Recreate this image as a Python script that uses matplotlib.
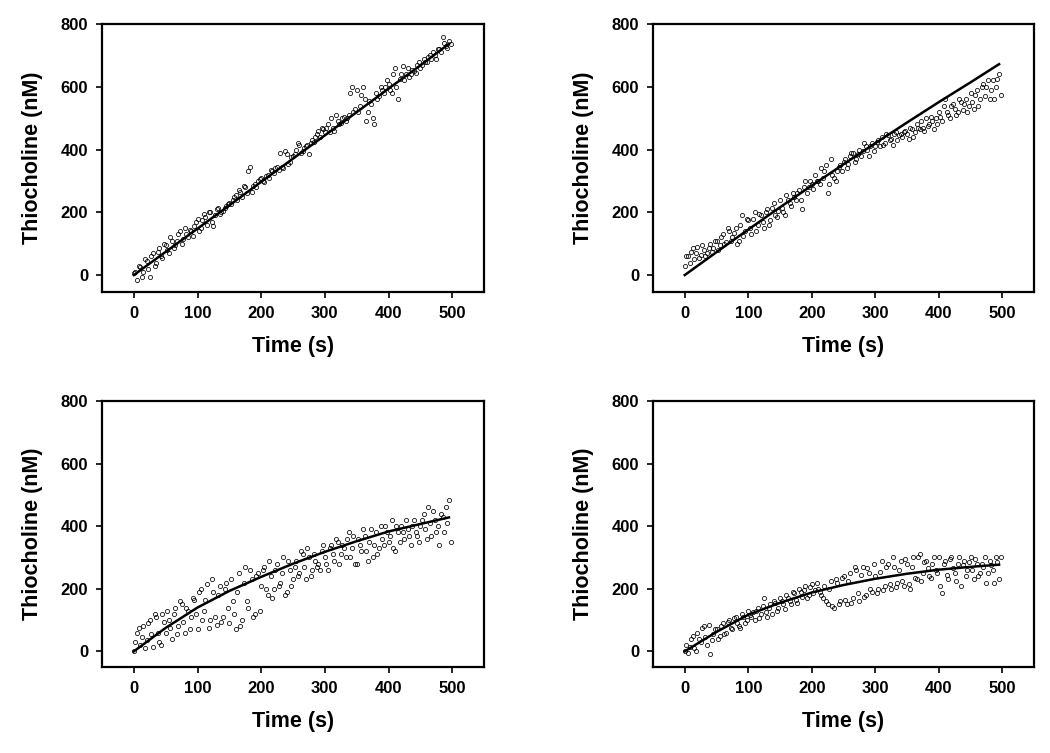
import matplotlib
matplotlib.use("Agg")
import matplotlib.pyplot as plt

# ---- data ----
t_scatter_a = [i * 5.0 for i in range(100)]        # 0, 5, ..., 495
t_scatter_b = [i * 5.0 + 2.5 for i in range(100)]  # 2.5, 7.5, ..., 497.5

tl_values_a = [5, -15, 25, 10, 45, -5, 70, 40, 85, 55, 95, 70, 110, 95, 130, 100, 150, 120, 140, 155,
               180, 150, 195, 160, 200, 155, 210, 195, 205, 220, 230, 240, 255, 270, 250, 280, 330, 265, 290, 300,
               310, 295, 320, 335, 325, 345, 390, 340, 385, 360, 380, 400, 415, 395, 410, 385, 430, 440, 460, 470,
               455, 480, 500, 460, 490, 485, 505, 500, 580, 520, 590, 540, 600, 490, 555, 500, 580, 570, 590, 600,
               610, 580, 660, 560, 640, 620, 660, 640, 650, 670, 660, 690, 680, 700, 710, 690, 720, 760, 730, 745]
tl_values_b = [10, 30, -5, 50, 20, 60, 30, 75, 60, 100, 80, 120, 85, 110, 140, 115, 130, 145, 125, 170,
               140, 175, 185, 200, 170, 190, 215, 200, 215, 225, 225, 250, 240, 265, 285, 260, 345, 285, 280, 305,
               300, 315, 310, 330, 340, 335, 345, 395, 355, 375, 385, 420, 390, 405, 415, 420, 425, 450, 440, 465,
               470, 455, 470, 510, 480, 500, 490, 510, 600, 530, 520, 575, 560, 520, 545, 480, 560, 600, 580, 620,
               590, 640, 600, 625, 665, 640, 630, 655, 645, 680, 670, 680, 695, 690, 700, 720, 710, 740, 725, 735]

tr_values_a = [30, 60, 75, 50, 90, 65, 80, 70, 100, 85, 110, 95, 130, 105, 140, 120, 150, 110, 190, 140,
               175, 130, 200, 160, 190, 150, 210, 175, 230, 185, 240, 200, 255, 230, 260, 240, 270, 210, 300, 280,
               290, 320, 300, 340, 330, 260, 370, 310, 330, 350, 360, 340, 380, 390, 370, 400, 395, 410, 380, 420,
               410, 430, 440, 420, 445, 435, 450, 430, 450, 455, 450, 470, 440, 480, 465, 470, 500, 480, 490, 500,
               520, 490, 560, 510, 540, 530, 520, 550, 545, 520, 580, 530, 590, 560, 610, 600, 560, 620, 600, 640]
tr_values_b = [60, 40, 85, 70, 55, 95, 60, 85, 75, 110, 80, 120, 100, 150, 110, 135, 100, 160, 125, 180,
               150, 180, 140, 195, 170, 200, 160, 215, 190, 205, 215, 190, 240, 220, 250, 260, 240, 280, 260, 300,
               275, 300, 290, 310, 350, 290, 320, 300, 345, 330, 370, 355, 390, 360, 385, 380, 420, 400, 410, 395,
               425, 410, 415, 450, 430, 415, 455, 445, 440, 460, 435, 465, 455, 470, 490, 460, 475, 505, 465, 480,
               505, 540, 520, 500, 545, 510, 560, 525, 560, 540, 550, 575, 540, 600, 570, 620, 590, 560, 625, 575]

bl_values_a = [0, 60, 20, 80, 35, 100, 15, 110, 30, 120, 60, 100, 40, 140, 80, 150, 60, 130, 110, 165,
               70, 200, 130, 215, 100, 190, 85, 210, 110, 220, 90, 160, 70, 250, 100, 270, 140, 230, 120, 250,
               210, 270, 180, 240, 200, 280, 220, 300, 190, 260, 230, 290, 250, 310, 230, 300, 260, 290, 280, 320,
               300, 260, 340, 290, 350, 310, 330, 360, 300, 370, 280, 340, 390, 320, 350, 300, 380, 330, 360, 400,
               350, 420, 320, 380, 400, 360, 390, 340, 420, 370, 400, 440, 360, 410, 450, 380, 340, 430, 460, 485]
bl_values_b = [30, 75, 45, 10, 90, 55, 120, 60, 20, 95, 130, 75, 120, 55, 160, 95, 140, 70, 170, 120,
               190, 100, 165, 75, 230, 110, 180, 95, 200, 140, 230, 120, 190, 80, 220, 160, 260, 110, 240, 130,
               260, 200, 290, 170, 260, 210, 250, 180, 290, 210, 270, 240, 320, 270, 330, 240, 310, 270, 260, 340,
               280, 330, 310, 360, 280, 340, 300, 380, 330, 280, 360, 320, 370, 290, 390, 340, 310, 400, 340, 380,
               370, 330, 400, 350, 380, 420, 370, 400, 380, 350, 420, 390, 460, 370, 420, 400, 440, 380, 410, 350]

br_values_a = [0, -5, 40, 10, 60, 30, 80, 20, -10, 55, 70, 50, 90, 60, 100, 70, 110, 80, 120, 90,
               130, 110, 100, 140, 120, 170, 110, 150, 160, 130, 170, 150, 180, 160, 190, 165, 200, 175, 210, 180,
               215, 195, 200, 180, 210, 150, 225, 140, 220, 160, 240, 150, 250, 170, 260, 160, 270, 180, 250, 190,
               240, 200, 290, 210, 280, 200, 270, 220, 290, 210, 280, 200, 300, 230, 310, 250, 290, 240, 280, 260,
               300, 185, 290, 230, 300, 250, 280, 210, 290, 260, 300, 230, 280, 250, 270, 220, 290, 260, 300, 230]
br_values_b = [20, 15, 50, 0, 40, 75, 45, 85, 35, 70, 40, 80, 55, 95, 75, 105, 90, 75, 110, 100,
               115, 125, 130, 105, 145, 125, 140, 120, 155, 140, 160, 135, 170, 150, 185, 155, 190, 195, 170, 205,
               185, 220, 190, 170, 160, 200, 145, 230, 150, 235, 165, 225, 155, 270, 185, 245, 175, 265, 200, 280,
               185, 255, 195, 270, 215, 300, 205, 260, 225, 295, 215, 270, 235, 300, 225, 285, 265, 235, 300, 250,
               210, 280, 245, 295, 265, 225, 300, 275, 240, 285, 260, 295, 240, 280, 300, 250, 275, 220, 285, 300]

t_fit = [0, 50, 100, 150, 200, 250, 300, 350, 400, 450, 495]
tl_fit = [0, 74, 148, 222, 297, 371, 445, 519, 594, 668, 737]
tr_fit = [0, 73, 145, 216, 285, 353, 420, 486, 551, 614, 672]
bl_fit = [0, 75, 140, 193, 238, 280, 318, 352, 383, 407, 428]
br_fit = [0, 62, 117, 155, 188, 212, 232, 248, 261, 270, 277]

x_ticks = [0, 100, 200, 300, 400, 500]
y_ticks = [0, 200, 400, 600, 800]
x_label = "Time (s)"
y_label = "Thiocholine (nM)"

plt.rcParams['font.family'] = ['Liberation Sans', 'DejaVu Sans']
plt.rcParams['font.weight'] = 'bold'

fig = plt.figure(figsize=(10.5, 7.53), dpi=100)
W, H = 1050, 753

panels = [
    ((102, 24, 484, 292), tl_values_a, tl_values_b, tl_fit, -54),
    ((653, 24, 1034, 292), tr_values_a, tr_values_b, tr_fit, -54),
    ((102, 401, 484, 667), bl_values_a, bl_values_b, bl_fit, -50),
    ((653, 401, 1034, 667), br_values_a, br_values_b, br_fit, -50),
]

for (l, t, r, b), va, vb, fit, ylo in panels:
    ax = fig.add_axes([l / W, 1 - b / H, (r - l) / W, (b - t) / H])
    for ts, vals in ((t_scatter_a, va), (t_scatter_b, vb)):
        ax.plot(ts, vals, linestyle='none', marker='o', markersize=3.0,
                markerfacecolor='none', markeredgecolor='black', markeredgewidth=0.55)
    ax.plot(t_fit, fit, color='black', linewidth=1.8)
    ax.set_xlim(-50, 550)
    ax.set_ylim(ylo, 800)
    ax.set_xticks(x_ticks)
    ax.set_yticks(y_ticks)
    ax.tick_params(direction='out', length=4, width=1.2, labelsize=12, pad=6,
                   top=False, right=False)
    for lab in ax.get_xticklabels() + ax.get_yticklabels():
        lab.set_fontweight('bold')
    for sp in ax.spines.values():
        sp.set_linewidth(1.6)
        sp.set_color('black')
    ax.set_xlabel(x_label, fontsize=15.5, fontweight='bold', labelpad=11)
    ax.set_ylabel(y_label, fontsize=15.5, fontweight='bold', labelpad=13)

fig.savefig("out.png", dpi=100, facecolor='white')
